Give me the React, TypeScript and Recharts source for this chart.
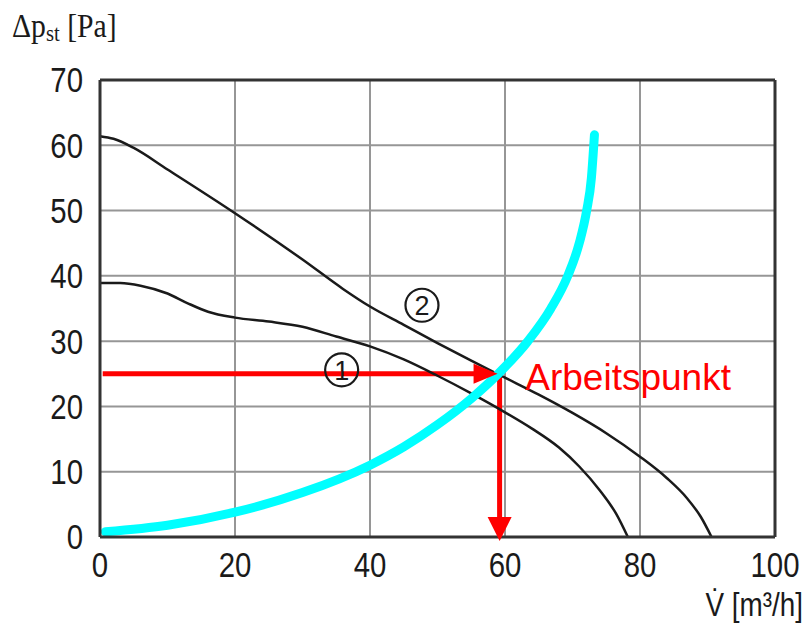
import { LineChart, Line, XAxis, YAxis, CartesianGrid, ReferenceLine, ReferenceDot } from "recharts";

// fan curve 2 (upper)
const curve2V = [0, 2, 5, 10, 20, 30, 36, 40, 45, 50, 55, 60, 65, 70, 75, 80, 84, 87, 89, 90.6];
const curve2P = [61.4, 61, 59.6, 56.3, 49.6, 42.5, 38, 35.3, 32.5, 29.7, 27, 24.4, 21.8, 19, 15.9, 12.3, 9, 5.9, 3.1, 0];

// fan curve 1 (lower)
const curve1V = [0, 3, 6, 10, 13, 16, 20, 25, 30, 35, 40, 45, 50, 55, 60, 64, 68, 71, 74, 76.5, 78.2];
const curve1P = [38.9, 38.9, 38.5, 37.3, 35.8, 34.5, 33.6, 33, 32.2, 30.7, 29.2, 27.2, 24.7, 22, 19.1, 16.6, 13.7, 10.8, 7.2, 3.5, 0];

// system curve
const systemV = [0.8, 10, 20, 30, 40, 45, 50, 55, 59, 63.4, 66.8, 69.3, 71, 72.1, 72.8, 73.15, 73.25];
const systemP = [0.8, 1.8, 3.8, 6.8, 11, 13.8, 17.2, 21.2, 25, 30, 35, 40, 45, 50, 55, 60, 61.6];

// operating point arrows
const arrowH = { v: [0.4, 58.9], p: [25, 25] };
const arrowV = { v: [59.2, 59.2], p: [25, 0] };

const xTicks = [0, 20, 40, 60, 80, 100];
const yTicks = [0, 10, 20, 30, 40, 50, 60, 70];

const curveLabels = [
  { v: 35.8, p: 25.6, text: "1" },
  { v: 47.7, p: 35.5, text: "2" },
];
const opLabel = { v: 63, p: 22.5, text: "Arbeitspunkt" };

const toRows = (v: number[], p: number[]) => v.map((x, i) => ({ v: x, p: p[i] }));

const sans = "'Liberation Sans', Arial, sans-serif";

const NarrowTick = (props: any) => {
  const { x, y, payload, textAnchor, orientation } = props;
  return (
    <text
      transform={`translate(${x},${y}) scale(0.84,1)`}
      textAnchor={textAnchor}
      dy={orientation === "bottom" ? "0.71em" : "0.355em"}
      fontSize={35}
      fontFamily={sans}
      fill="#1a1a1a"
    >
      {payload.value}
    </text>
  );
};

const arrowHead = (dir: "right" | "down") => (props: any) => {
  const { cx, cy, index } = props;
  if (index !== 1) return <g key={`a${dir}${index}`} />;
  const pts =
    dir === "right"
      ? `${cx},${cy} ${cx - 24},${cy - 10} ${cx - 24},${cy + 10}`
      : `${cx},${cy + 4} ${cx - 12},${cy - 20} ${cx + 12},${cy - 20}`;
  return <polygon key={`a${dir}${index}`} points={pts} fill="#ff0000" />;
};

export default function App() {
  return (
    <div style={{ position: "absolute", left: 0, top: 0, background: "#fff" }}>
      <LineChart width={807} height={623} margin={{ top: 80, right: 32, bottom: 0, left: 0 }}>
        <CartesianGrid stroke="#969696" strokeWidth={2} />
        <XAxis
          type="number"
          dataKey="v"
          domain={[0, 100]}
          ticks={xTicks}
          height={86}
          tickLine={false}
          tickMargin={9}
          axisLine={{ stroke: "#333", strokeWidth: 3 }}
          tick={<NarrowTick orientation="bottom" />}
          label={{
            content: () => (
              <text
                transform="translate(803,616) scale(0.82,1)"
                textAnchor="end"
                fontSize={34}
                fontFamily={sans}
                fill="#1a1a1a"
              >
                V̇ [m³/h]
              </text>
            ),
          }}
        />
        <YAxis
          type="number"
          dataKey="p"
          domain={[0, 70]}
          ticks={yTicks}
          width={100}
          tickLine={false}
          tickMargin={11}
          axisLine={{ stroke: "#333", strokeWidth: 3 }}
          tick={<NarrowTick orientation="left" />}
          label={{
            content: () => (
              <text
                transform="translate(12,37) scale(0.9,1)"
                fontSize={33}
                fontFamily="'Liberation Serif', serif"
                fill="#1a1a1a"
              >
                Δp
                <tspan fontSize={23} dy={4}>st</tspan>
                <tspan dy={-4}> [Pa]</tspan>
              </text>
            ),
          }}
        />
        <ReferenceLine y={70} stroke="#333" strokeWidth={3} />
        <ReferenceLine x={100} stroke="#333" strokeWidth={3} />

        {curveLabels.map((c) => (
          <ReferenceDot
            key={c.text}
            x={c.v}
            y={c.p}
            r={16}
            shape={(props: any) => (
              <g>
                <circle cx={props.cx} cy={props.cy} r={16.5} fill="none" stroke="#1a1a1a" strokeWidth={2.2} />
                <text
                  x={props.cx}
                  y={props.cy + 10}
                  textAnchor="middle"
                  fontSize={27}
                  fontFamily={sans}
                  fill="#1a1a1a"
                >
                  {c.text}
                </text>
              </g>
            )}
          />
        ))}

        <Line
          data={toRows(arrowH.v, arrowH.p)}
          dataKey="p"
          type="linear"
          stroke="#ff0000"
          strokeWidth={5}
          dot={arrowHead("right")}
          activeDot={false}
          isAnimationActive={false}
        />
        <Line
          data={toRows(arrowV.v, arrowV.p)}
          dataKey="p"
          type="linear"
          stroke="#ff0000"
          strokeWidth={5}
          dot={arrowHead("down")}
          activeDot={false}
          isAnimationActive={false}
        />
        <Line
          data={toRows(curve1V, curve1P)}
          dataKey="p"
          type="monotone"
          stroke="#1a1a1a"
          strokeWidth={2.5}
          dot={false}
          activeDot={false}
          isAnimationActive={false}
        />
        <Line
          data={toRows(curve2V, curve2P)}
          dataKey="p"
          type="monotone"
          stroke="#1a1a1a"
          strokeWidth={2.5}
          dot={false}
          activeDot={false}
          isAnimationActive={false}
        />
        <Line
          data={toRows(systemV, systemP)}
          dataKey="p"
          type="monotone"
          stroke="#00ffff"
          strokeWidth={9}
          strokeLinecap="round"
          dot={false}
          activeDot={false}
          isAnimationActive={false}
        />
        <ReferenceDot
          x={opLabel.v}
          y={opLabel.p}
          r={0}
          shape={(props: any) => (
            <text x={props.cx} y={props.cy} fontSize={37} fontFamily={sans} fill="#ff0000">
              {opLabel.text}
            </text>
          )}
        />
      </LineChart>
    </div>
  );
}
